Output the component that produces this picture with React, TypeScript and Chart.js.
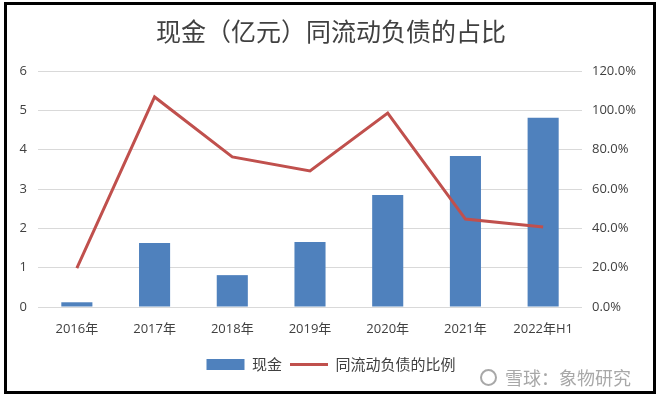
import React, { useEffect, useRef } from "react";
import { Chart, registerables } from "chart.js";

Chart.register(...registerables);

const categories = ["2016年", "2017年", "2018年", "2019年", "2020年", "2021年", "2022年H1"];
const cashValues = [0.12, 1.63, 0.81, 1.65, 2.85, 3.84, 4.81];
const ratioValues = [19.8, 106.8, 76.3, 69.2, 98.6, 44.7, 40.7];
const seriesNames = ["现金", "同流动负债的比例"];
const titleText = "现金（亿元）同流动负债的占比";
const watermarkText = "雪球：象物研究";

const tickFont = "'Open Sans', 'Noto Sans CJK SC', sans-serif";
const cjkFont = "'Noto Sans CJK SC', 'Open Sans', sans-serif";

export default function App() {
  const canvasRef = useRef<HTMLCanvasElement | null>(null);

  useEffect(() => {
    document.body.style.margin = "0";
    const canvas = canvasRef.current;
    if (!canvas) return;
    const chart = new Chart(canvas, {
      type: "bar",
      data: {
        labels: categories,
        datasets: [
          {
            type: "bar",
            label: seriesNames[0],
            data: cashValues,
            backgroundColor: "#4F81BD",
            borderWidth: 0,
            barPercentage: 0.4,
            categoryPercentage: 1,
            yAxisID: "y",
            order: 1,
          },
          {
            type: "line",
            label: seriesNames[1],
            data: ratioValues,
            borderColor: "#C0504D",
            backgroundColor: "#C0504D",
            borderWidth: 3,
            pointRadius: 0,
            tension: 0,
            yAxisID: "y1",
            order: 0,
          },
        ],
      } as any,
      options: {
        responsive: false,
        animation: false,
        layout: { padding: { top: 0, left: 0, right: 0, bottom: 16 } },
        plugins: {
          tooltip: { enabled: false },
          title: {
            display: true,
            text: titleText,
            color: "#404040",
            font: { family: cjkFont, size: 25, weight: "normal" },
            padding: { top: 16, bottom: 25 },
          },
          legend: {
            position: "bottom",
            labels: {
              usePointStyle: true,
              pointStyleWidth: 38,
              boxHeight: 11,
              padding: 8,
              color: "#404040",
              font: { family: cjkFont, size: 15 },
              sort: (a: any, b: any) => a.datasetIndex - b.datasetIndex,
              generateLabels: (ch: any) => {
                const items = Chart.defaults.plugins.legend.labels.generateLabels(ch);
                return items.map((it: any) => ({
                  ...it,
                  pointStyle: it.datasetIndex === 0 ? "rect" : "line",
                  lineWidth: it.datasetIndex === 0 ? 0 : 3,
                }));
              },
            },
          },
        },
        scales: {
          x: {
            grid: { display: false, drawTicks: false },
            border: { display: false },
            ticks: {
              color: "#404040",
              font: { family: tickFont, size: 13 },
              padding: 14,
              maxRotation: 0,
              autoSkip: false,
            },
            afterFit: (s: any) => {
              s.height = 42;
            },
          },
          y: {
            position: "left",
            min: 0,
            max: 6,
            grid: { color: "#D9D9D9", lineWidth: 1, drawTicks: false },
            border: { display: false },
            ticks: {
              stepSize: 1,
              color: "#404040",
              font: { family: tickFont, size: 13 },
              padding: 11,
            },
            afterFit: (s: any) => {
              s.width = 38;
            },
          },
          y1: {
            position: "right",
            min: 0,
            max: 120,
            grid: { display: false, drawTicks: false },
            border: { display: false },
            ticks: {
              stepSize: 20,
              color: "#404040",
              font: { family: tickFont, size: 13 },
              padding: 10,
              callback: (v: any) => Number(v).toFixed(1) + "%",
            },
            afterFit: (s: any) => {
              s.width = 80;
            },
          },
        },
      } as any,
    });
    return () => chart.destroy();
  }, []);

  return (
    <div style={{ position: "relative", width: 662, height: 398, background: "#fff", overflow: "hidden" }}>
      <canvas ref={canvasRef} width={662} height={398} style={{ position: "absolute", left: 0, top: 0 }} />
      <div
        style={{
          position: "absolute",
          left: 4,
          top: 2,
          width: 652,
          height: 392,
          boxSizing: "border-box",
          border: "3px solid #000",
          pointerEvents: "none",
        }}
      />
      <div
        style={{
          position: "absolute",
          left: 480,
          top: 366,
          display: "flex",
          alignItems: "center",
          color: "#a8a8a8",
          fontFamily: cjkFont,
          fontSize: 18,
          lineHeight: "22px",
          textShadow: "0 0 2px #fff, 0 0 2px #fff",
          whiteSpace: "nowrap",
        }}
      >
        <span
          style={{
            display: "inline-block",
            width: 17,
            height: 17,
            borderRadius: "50%",
            border: "2px solid #a8a8a8",
            marginRight: 8,
            boxSizing: "border-box",
          }}
        />
        <span>{watermarkText}</span>
      </div>
    </div>
  );
}
